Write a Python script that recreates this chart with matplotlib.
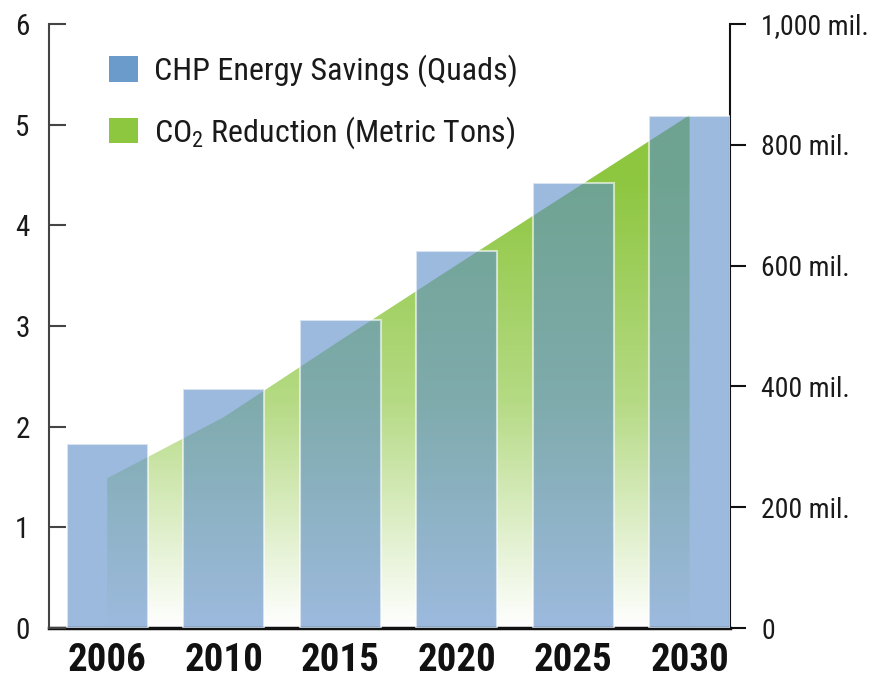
import matplotlib
matplotlib.use("Agg")
import matplotlib.pyplot as plt
import numpy as np
from matplotlib.patches import Patch, Polygon
from matplotlib.colors import LinearSegmentedColormap

years = ["2006", "2010", "2015", "2020", "2025", "2030"]
chp_quads = [1.83, 2.37, 3.06, 3.74, 4.42, 5.09]
co2_mil = [248, 349, 476, 601, 725, 849]
left_ticks = [0, 1, 2, 3, 4, 5, 6]
right_ticks = [0, 200, 400, 600, 800, 1000]
right_labels = ["0", "200 mil.", "400 mil.", "600 mil.", "800 mil.", "1,000 mil."]

FONT = ['Liberation Sans Narrow', 'Roboto Condensed', 'DejaVu Sans']
plt.rcParams['font.family'] = FONT
plt.rcParams['mathtext.fontset'] = 'custom'
plt.rcParams['mathtext.rm'] = FONT[0]

fig = plt.figure(figsize=(8.75, 6.82), dpi=100)
ax = fig.add_axes([0.056, 0.079, 0.778, 0.886])
ax2 = ax.twinx()
ax2.set_zorder(0)
ax.set_zorder(1)
ax.patch.set_visible(False)

x = np.arange(len(years))
xlim = (-0.5, 5.345)
ax.set_xlim(*xlim)
ax2.set_xlim(*xlim)
ax.set_ylim(0, 6)
ax2.set_ylim(0, 1000)

# green gradient area on right axis
green = "#8dc63f"
cmap = LinearSegmentedColormap.from_list("g", ["#ffffff", "#b5da84", green])
grad = np.linspace(0, 1, 256).reshape(-1, 1)
grad = np.clip(grad / 0.75, 0, 1)
img = ax2.imshow(grad, extent=[xlim[0], xlim[1], 0, 1000], origin="lower",
                 aspect="auto", cmap=cmap, vmin=0, vmax=1, zorder=1)
verts = [(x[0], 0)] + list(zip(x, co2_mil)) + [(x[-1], 0)]
poly = Polygon(verts, closed=True, facecolor="none", edgecolor="none",
               transform=ax2.transData)
ax2.add_patch(poly)
img.set_clip_path(poly)

# bars on left axis
ax.bar(x, chp_quads, width=0.695, color="#5b8cc8", alpha=0.6,
       edgecolor=(1, 1, 1, 0.8), linewidth=1.5, zorder=3)

# spines
for s in ["top"]:
    ax.spines[s].set_visible(False)
    ax2.spines[s].set_visible(False)
ax.spines["right"].set_visible(False)
ax2.spines["left"].set_visible(False)
ax2.spines["bottom"].set_visible(False)
ax.spines["left"].set_color("#444444")
ax.spines["left"].set_linewidth(1.5)
ax.spines["bottom"].set_color("#111111")
ax.spines["bottom"].set_linewidth(2.5)
ax.spines["bottom"].set_zorder(0.5)
ax2.spines["right"].set_color("#111111")
ax2.spines["right"].set_linewidth(1.5)

ax.set_yticks(left_ticks)
ax.set_yticklabels([str(t) for t in left_ticks])
ax.tick_params(axis="y", direction="in", length=12, width=1.5, color="#444444",
               pad=14, labelsize=21, labelcolor="#1a1a1a")
ax.set_xticks(x)
ax.set_xticklabels(years, fontweight="bold", fontsize=28)
ax.tick_params(axis="x", length=0, pad=10, labelcolor="#111111")

ax2.set_yticks(right_ticks)
ax2.set_yticklabels(right_labels)
ax2.tick_params(axis="y", direction="out", length=11.5, width=1.5, color="#111111",
                pad=11, labelsize=20, labelcolor="#1a1a1a")

handles = [Patch(facecolor="#6a9bcb", edgecolor="none"),
           Patch(facecolor=green, edgecolor="none")]
labels = ["CHP Energy Savings (Quads)", r"CO$\mathregular{_2}$ Reduction (Metric Tons)"]
leg = ax.legend(handles, labels, loc="upper left", bbox_to_anchor=(0.1245, 0.92),
                bbox_transform=fig.transFigure, frameon=False, fontsize=23,
                handlelength=0.9, handleheight=0.85, handletextpad=0.5,
                labelspacing=0.85, borderpad=0, borderaxespad=0)
for t in leg.get_texts():
    t.set_color("#1a1a1a")

fig.savefig("out.png", dpi=100)
